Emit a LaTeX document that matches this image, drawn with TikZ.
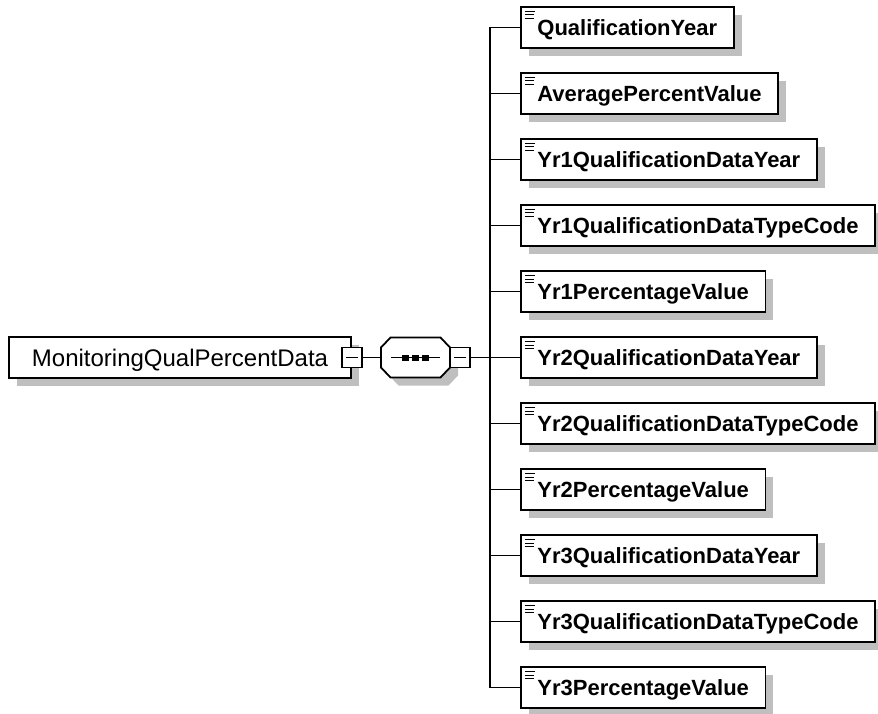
\documentclass[tikz,border=0pt]{standalone}
\usepackage{fontspec}
\setmainfont{Liberation Sans}
\usetikzlibrary{shadows}

\begin{document}
\begin{tikzpicture}[x=1pt, y=-1pt, line width=1.8pt,
    box/.style = {draw, fill=white, inner sep=0pt,
        drop shadow={shadow xshift=8pt, shadow yshift=-8pt, fill=black!25, opacity=1}},
    main/.style = {box, minimum width=342pt, minimum height=41pt, text height=17pt, text depth=0pt,
        font=\fontsize{24}{28}\selectfont},
    elem/.style = {box, anchor=west, minimum height=41pt, inner xsep=16.5pt, text height=16pt, text depth=0pt,
        font=\fontsize{22}{26}\selectfont\bfseries,
        path picture={
            \draw[black, line width=1pt] ([xshift=4pt,yshift=-4.5pt]path picture bounding box.north west) -- ++(10pt,0);
            \draw[black, line width=1pt] ([xshift=4pt,yshift=-8pt]path picture bounding box.north west) -- ++(9pt,0);
            \draw[black, line width=1pt] ([xshift=4pt,yshift=-11.5pt]path picture bounding box.north west) -- ++(9pt,0);}},
    seq/.style = {minimum width=69pt, minimum height=40pt, inner sep=0pt,
        path picture={
            \draw[black, line width=1.8pt] ([xshift=-24.5pt]path picture bounding box.center) -- ([xshift=24.5pt]path picture bounding box.center);
            \fill[black] ([xshift=-13.5pt,yshift=-3pt]path picture bounding box.center) rectangle ++(7pt,6pt);
            \fill[black] ([xshift=-3.5pt,yshift=-3pt]path picture bounding box.center) rectangle ++(7pt,6pt);
            \fill[black] ([xshift=6.5pt,yshift=-3pt]path picture bounding box.center) rectangle ++(7pt,6pt);}},
    minus/.style = {draw, fill=white, minimum size=20pt, inner sep=0pt,
        path picture={\draw[black, line width=1.3pt] ([xshift=4pt]path picture bounding box.west) -- ([xshift=-4pt]path picture bounding box.east);}}]
    \useasboundingbox (0,0) rectangle (878,714);
    \node[main] (1) at (180,357.5) {MonitoringQualPercentData};
    \node[minus] (m1) at (1.east) {};
    % sequence octagon
    \coordinate (s) at (415.5,357.5);
    \path[box] ([shift={(-34.5,-10)}]s) -- ++(9.5,-10) -- ++(50,0) -- ++(9.5,10) -- ++(0,20)
        -- ++(-9.5,10) -- ++(-50,0) -- ++(-9.5,-10) -- cycle;
    \node[seq] (2) at (s) {};
    \node[minus] (m2) at (460,357.5) {};
    \coordinate (b) at (490,357.5);
    \node[elem] (3)  at (520,27.5)  {QualificationYear};
    \node[elem] (4)  at (520,93.5)  {AveragePercentValue};
    \node[elem] (5)  at (520,159.5) {Yr1QualificationDataYear};
    \node[elem] (6)  at (520,225.5) {Yr1QualificationDataTypeCode};
    \node[elem] (7)  at (520,291.5) {Yr1PercentageValue};
    \node[elem] (8)  at (520,357.5) {Yr2QualificationDataYear};
    \node[elem] (9)  at (520,423.5) {Yr2QualificationDataTypeCode};
    \node[elem] (10) at (520,489.5) {Yr2PercentageValue};
    \node[elem] (11) at (520,555.5) {Yr3QualificationDataYear};
    \node[elem] (12) at (520,621.5) {Yr3QualificationDataTypeCode};
    \node[elem] (13) at (520,687.5) {Yr3PercentageValue};
    \draw (m1) -- (2);
    \draw (m2) -- (b);
    \draw (b) |- (3);
    \draw (b) |- (4);
    \draw (b) |- (5);
    \draw (b) |- (6);
    \draw (b) |- (7);
    \draw (b) |- (8);
    \draw (b) |- (9);
    \draw (b) |- (10);
    \draw (b) |- (11);
    \draw (b) |- (12);
    \draw (b) |- (13);
\end{tikzpicture}
\end{document}
